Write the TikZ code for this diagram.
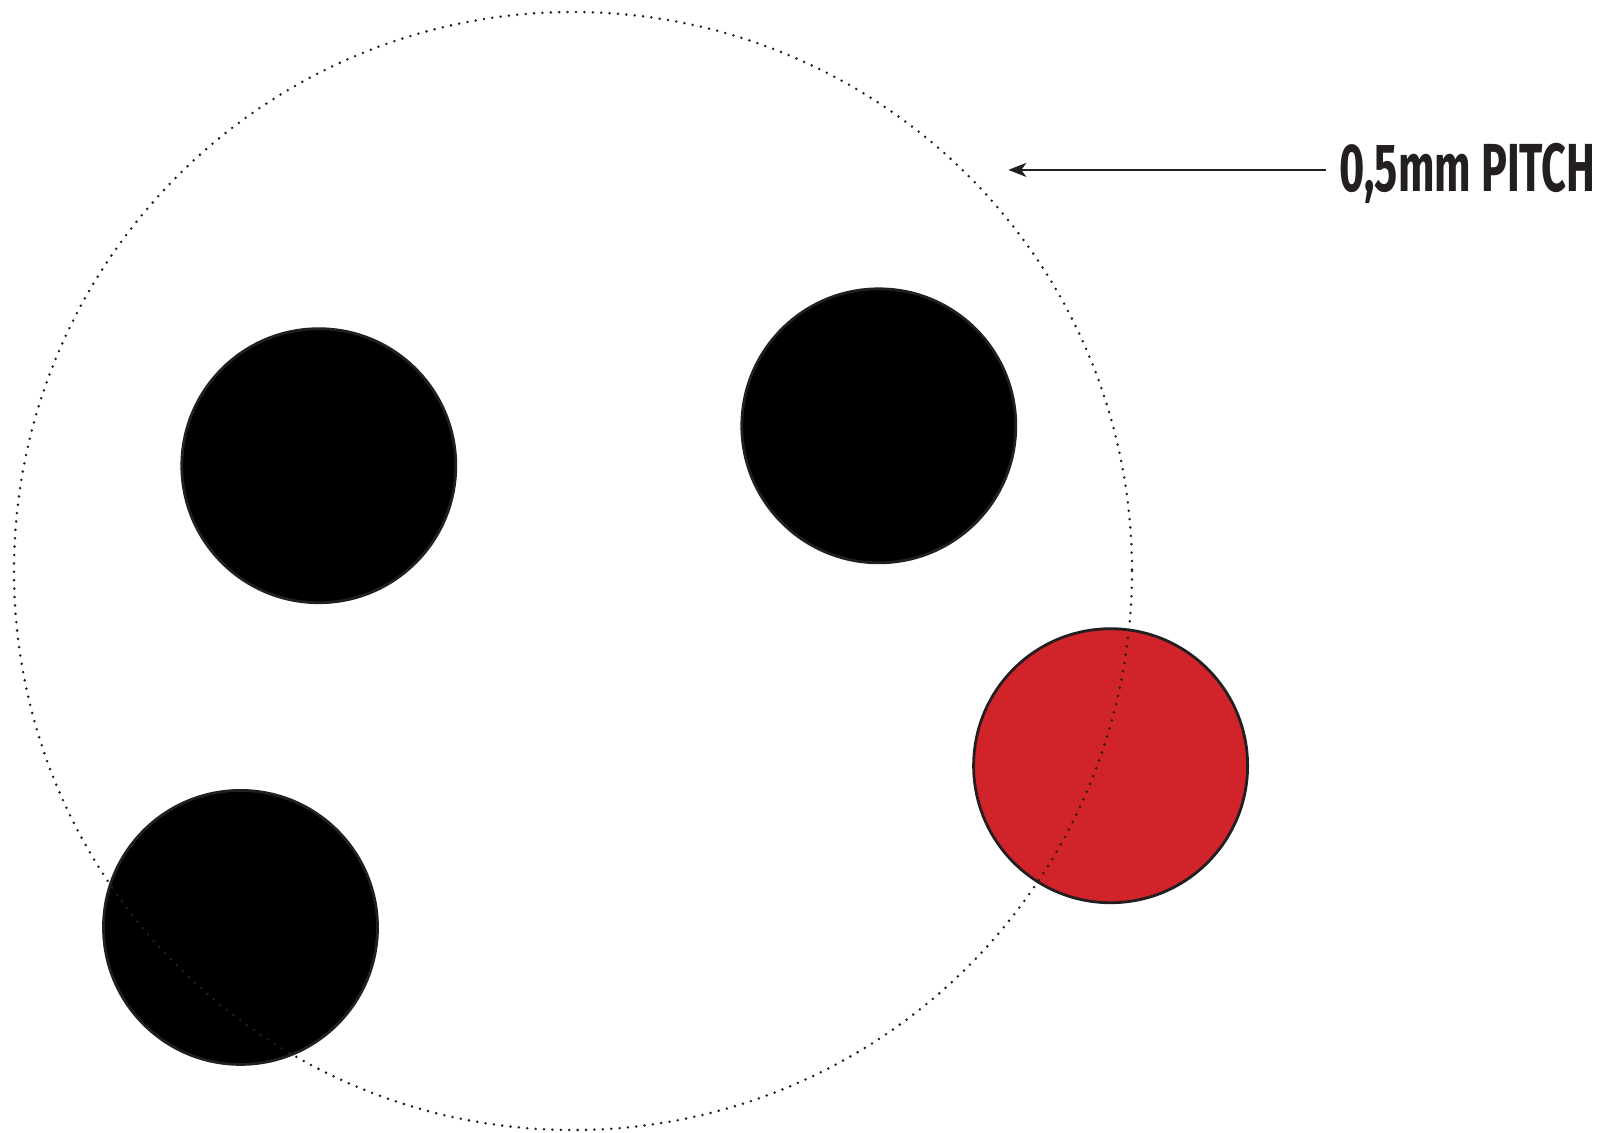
\documentclass[tikz,border=0pt]{standalone}
\usepackage{fontspec}
\setmainfont{Fira Sans}
\usetikzlibrary{arrows.meta}
\definecolor{outline}{HTML}{231F20}
\definecolor{pinred}{HTML}{D0232A}
\begin{document}
\begin{tikzpicture}[x=0.5pt,y=-0.5pt,
  pin/.style={circle,draw=outline,line width=1.4pt,minimum size=137pt,inner sep=0pt,outer sep=0pt},
  blackpin/.style={pin,fill=black},
  redpin/.style={pin,fill=pinred},
  pitchcircle/.style={draw=outline,line width=1.4pt,line cap=round,dash pattern=on 0pt off 4.2pt},
  pointer/.style={draw=outline,line width=1pt,-{Stealth[length=9pt,width=7pt,inset=2.5pt]}},
  label/.style={anchor=base west,inner sep=0pt,text=outline}]
\useasboundingbox (0,0) rectangle (1605,1132);
\node[blackpin] (p1) at (318.8,465.7) {};
\node[blackpin] (p2) at (878.8,425.8) {};
\node[blackpin] (p3) at (240.5,927.4) {};
\node[redpin] (p4) at (1110.6,765.7) {};
\draw[pitchcircle] (573,571) circle[radius=559];
\node[label] (txt) at (1339,191.4) {\resizebox{128pt}{\height}{\fontsize{34}{34}\selectfont\bfseries 0,5mm PITCH}};
\coordinate (tip) at (1008.3,169.9);
\draw[pointer] (1325.6,169.9) -- (tip);
\end{tikzpicture}
\end{document}
